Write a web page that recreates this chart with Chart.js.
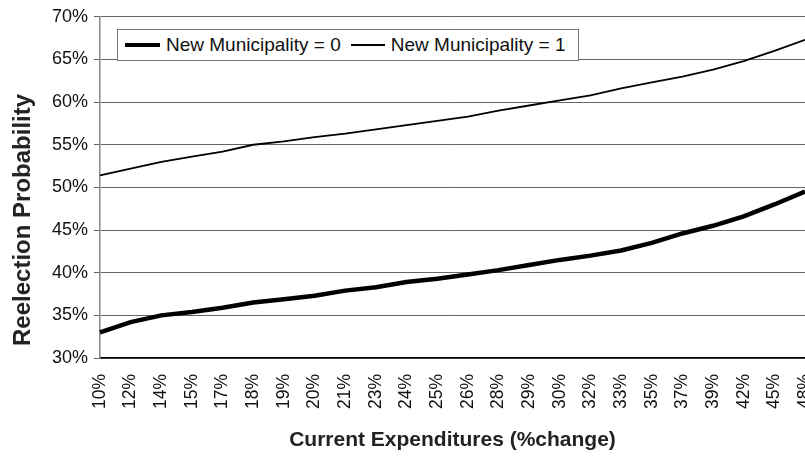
<!DOCTYPE html>
<html>
<head>
<meta charset="utf-8">
<script src="https://cdn.jsdelivr.net/npm/chart.js@4"></script>
<style>
    body { margin: 0; background: #fff; }
    #wrap { position: relative; width: 805px; height: 467px; }
    #legend {
        position: absolute; left: 117px; top: 29px; width: 460px; height: 30px;
        border: 1px solid #777; background: #fff;
        display: flex; align-items: center;
        font-family: "Liberation Sans", Arial, sans-serif; font-size: 19px; color: #111;
    }
    .sample { display: inline-block; background: #000; }
    #ytitle {
        position: absolute; left: 22px; top: 220px; white-space: nowrap;
        transform: translate(-50%, -50%) rotate(-90deg);
        font-family: "Liberation Sans", Arial, sans-serif; font-size: 24px; font-weight: bold; color: #222;
    }
</style>
</head>
<body>
<div id="wrap">
    <canvas id="chart" width="805" height="467"></canvas>
    <div id="ytitle">Reelection Probability</div>
    <div id="legend">
        <span class="sample" style="width:35px;height:4px;margin-left:7px;margin-right:6px"></span>
        <span>New Municipality = 0</span>
        <span class="sample" style="width:34px;height:2px;margin-left:10px;margin-right:6px"></span>
        <span>New Municipality = 1</span>
    </div>
</div>
<script>
// Tick labels along the x axis (percent change in current expenditures)
const categories = ['10%', '12%', '14%', '15%', '17%', '18%', '19%', '20%', '21%', '23%', '24%', '25%',
    '26%', '28%', '29%', '30%', '32%', '33%', '35%', '37%', '39%', '42%', '45%', '48%'];

// Reelection probability (%)
const newMunicipality0 = [33.0, 34.2, 35.0, 35.4, 35.9, 36.5, 36.9, 37.3, 37.9, 38.3, 38.9, 39.3,
    39.8, 40.3, 40.9, 41.5, 42.0, 42.6, 43.5, 44.6, 45.5, 46.6, 48.0, 49.5];
const newMunicipality1 = [51.4, 52.2, 53.0, 53.6, 54.2, 55.0, 55.4, 55.9, 56.3, 56.8, 57.3, 57.8,
    58.3, 59.0, 59.6, 60.2, 60.8, 61.6, 62.3, 63.0, 63.8, 64.8, 66.0, 67.3];

const fontFamily = '"Liberation Sans", Arial, sans-serif';

const ctx = document.getElementById('chart').getContext('2d');
const chart = new Chart(ctx, {
    type: 'line',
    data: {
        labels: categories,
        datasets: [
            { label: 'New Municipality = 0', data: newMunicipality0, borderColor: '#000', borderWidth: 4.5, pointRadius: 0, tension: 0, fill: false },
            { label: 'New Municipality = 1', data: newMunicipality1, borderColor: '#000', borderWidth: 1.8, pointRadius: 0, tension: 0, fill: false },
        ],
    },
    options: {
        responsive: false,
        animation: false,
        layout: { padding: { top: 10, right: 0, left: 0, bottom: 0 } },
        plugins: { legend: { display: false }, tooltip: { enabled: false } },
        scales: {
            x: {
                grid: { display: false },
                border: { color: '#000', width: 1.5 },
                ticks: {
                    autoSkip: false, minRotation: 90, maxRotation: 90, padding: 8,
                    color: '#111', font: { family: fontFamily, size: 17.5 },
                },
                title: {
                    display: true, text: 'Current Expenditures (%change)', color: '#222',
                    font: { family: fontFamily, size: 21, weight: 'bold' }, padding: 14,
                },
                afterFit: (scale) => { scale.height = 109; scale.paddingLeft = 0; scale.paddingRight = 0; },
            },
            y: {
                min: 30, max: 70,
                grid: { color: '#666', lineWidth: 1, tickLength: 6 },
                border: { color: '#888', width: 1.5 },
                ticks: {
                    stepSize: 5, padding: 6, color: '#111',
                    font: { family: fontFamily, size: 18 },
                    callback: (v) => v + '%',
                },
                afterFit: (scale) => { scale.width = 100; },
            },
        },
    },
});
</script>
</body>
</html>
